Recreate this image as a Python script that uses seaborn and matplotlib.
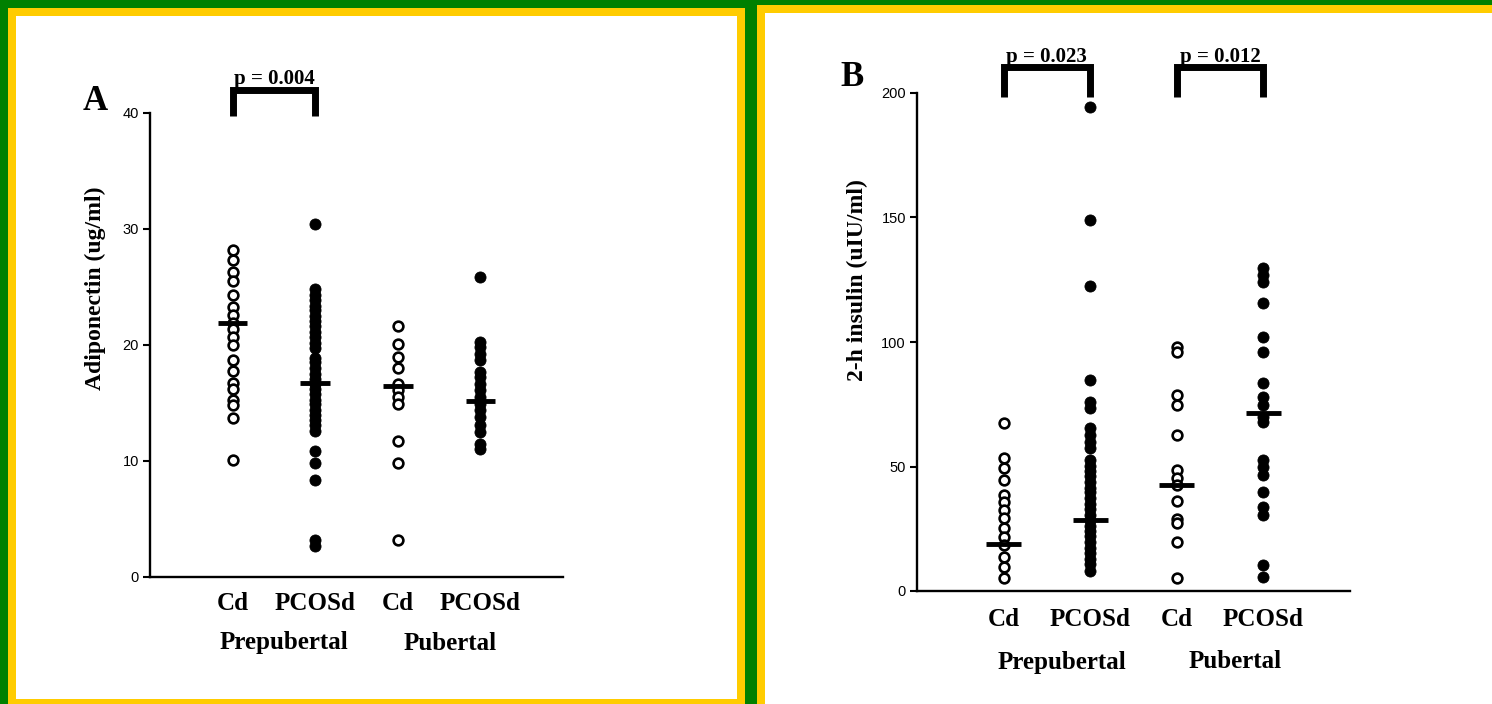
import numpy as np
import pandas as pd
import matplotlib
matplotlib.use("Agg")
import matplotlib.pyplot as plt
import seaborn as sns
from matplotlib.patches import Rectangle
from matplotlib import transforms

sns.set_theme(style="white")
plt.rcParams["font.family"] = ["Liberation Serif", "DejaVu Serif"]
plt.rcParams["text.color"] = "black"
plt.rcParams["axes.labelcolor"] = "black"
plt.rcParams["ytick.color"] = "black"
plt.rcParams["xtick.color"] = "black"

# ---------------- data ----------------
categories = ["Cd", "PCOSd", "Cd", "PCOSd"]
keys = ["Cd_pre", "PCOSd_pre", "Cd_pub", "PCOSd_pub"]
groups = ["Prepubertal", "Pubertal"]

adipo_cd_pre = [28.2, 27.3, 26.3, 25.5, 24.3, 23.3, 22.6, 21.9, 21.4, 20.7, 20.0,
                18.7, 17.8, 16.7, 16.2, 15.3, 14.8, 13.7, 10.1]
adipo_pcos_pre = [30.4, 24.8, 24.3, 23.9, 23.4, 23.0, 22.5, 22.1, 21.6, 21.1, 20.7,
                  20.2, 19.7, 18.9, 18.5, 18.0, 17.5, 17.1, 16.6, 16.2, 15.8, 15.3,
                  14.9, 14.4, 14.0, 13.5, 13.1, 12.6, 10.9, 9.8, 8.4, 3.2, 2.7]
adipo_cd_pub = [21.6, 20.1, 19.0, 18.0, 16.6, 16.1, 15.5, 14.9, 11.7, 9.8, 3.2]
adipo_pcos_pub = [25.9, 20.3, 19.8, 19.2, 18.7, 17.7, 17.2, 16.6, 16.1, 15.5, 14.9,
                  14.4, 13.8, 13.1, 12.5, 11.5, 11.0]
adipo_center = [21.9, 16.7, 16.5, 15.2]

ins_cd_pre = [67.3, 53.3, 49.3, 44.6, 38.6, 35.9, 32.5, 29.2, 25.2, 21.8, 18.5,
              13.8, 9.8, 5.1]
ins_pcos_pre = [194.5, 149.0, 122.5, 84.7, 76.0, 73.5, 65.3, 62.6, 60.0, 57.3, 52.5,
                50.4, 48.1, 46.0, 43.8, 41.5, 39.6, 37.2, 35.1, 32.8, 30.6, 28.4,
                26.3, 24.0, 21.9, 19.7, 17.4, 15.3, 13.0, 10.9, 8.2]
ins_cd_pub = [98.1, 96.1, 78.7, 74.7, 62.7, 48.6, 45.3, 42.6, 36.3, 28.8, 27.2,
              19.8, 5.1]
ins_pcos_pub = [129.6, 126.9, 124.2, 115.8, 101.9, 96.1, 83.4, 78.0, 74.7, 70.0,
                68.0, 52.6, 49.9, 46.6, 39.9, 33.9, 30.5, 10.4, 5.7]
ins_center = [18.9, 28.5, 42.6, 71.6]

adipo_ticks = [0, 10, 20, 30, 40]
ins_ticks = [0, 50, 100, 150, 200]

# ---------------- figure ----------------
W, H = 1492, 704
fig = plt.figure(figsize=(W / 100, H / 100), dpi=100)
fig.patch.set_facecolor("#008000")


def fx(px):
    return px / W


def fy(py):
    return 1 - py / H


def rect(x0, y0, x1, y1, color):
    fig.patches.append(Rectangle((fx(x0), fy(y1)), (x1 - x0) / W, (y1 - y0) / H,
                                 transform=fig.transFigure, facecolor=color,
                                 edgecolor="none", zorder=-10))


YELLOW = "#FFCC00"
rect(8, 8, 745, 710, YELLOW)
rect(16, 16, 737, 699, "white")
rect(757, 5, 1500, 710, YELLOW)
rect(765, 13, 1500, 710, "white")


def make_df(a, b, c, d):
    vals = [a, b, c, d]
    rows = []
    for k, v in zip(keys, vals):
        for y in v:
            rows.append({"cat": k, "val": y, "fill": "open" if k.startswith("Cd") else "filled"})
    return pd.DataFrame(rows)


def panel(rect_px, df, centers, ticks, ylabel, letter, letter_xy, ylabel_xy,
          brackets, bar_half, group_pos, tick_y, group_y, open_size, fill_size):
    x0, y0, x1, y1 = rect_px
    ax = fig.add_axes([fx(x0), fy(y1), (x1 - x0) / W, (y1 - y0) / H])
    ax.set_facecolor("none")
    sns.stripplot(data=df[df["fill"] == "open"], x="cat", y="val", order=keys,
                  jitter=False, color="white", edgecolor="black", linewidth=1.9,
                  size=open_size, ax=ax, zorder=3)
    sns.stripplot(data=df[df["fill"] == "filled"], x="cat", y="val", order=keys,
                  jitter=False, color="black", edgecolor="black", linewidth=0.6,
                  size=fill_size, ax=ax, zorder=3)
    pos = np.arange(len(keys))
    ax.hlines(centers, pos - bar_half, pos + bar_half, color="black", lw=3.5, zorder=4)
    ax.set_xlim(-1, 4)
    ax.set_ylim(ticks[0], ticks[-1])
    ax.set_yticks(ticks)
    ax.set_yticklabels([str(t) for t in ticks], fontfamily="Liberation Sans",
                       fontsize=10.5, color="black")
    ax.set_xticks(pos)
    ax.set_xticklabels([])
    ax.tick_params(axis="x", length=0)
    ax.tick_params(axis="y", direction="out", length=5, width=1.5, pad=3, left=True,
                   color="black")
    for s in ["top", "right"]:
        ax.spines[s].set_visible(False)
    for s in ["left", "bottom"]:
        ax.spines[s].set_linewidth(1.7)
        ax.spines[s].set_color("black")
    ax.set_xlabel("")
    ax.set_ylabel("")
    trans = transforms.blended_transform_factory(ax.transData, ax.transAxes)
    axh = y1 - y0
    for p, lab in zip(pos, categories):
        ax.text(p, -(tick_y - y1) / axh, lab, transform=trans, ha="center", va="center",
                fontsize=18, fontweight="bold", color="black")
    for gp, g in zip(group_pos, groups):
        ax.text(gp, -(group_y - y1) / axh, g, transform=trans, ha="center", va="center",
                fontsize=18, fontweight="bold", color="black")
    fig.text(fx(ylabel_xy[0]), fy(ylabel_xy[1]), ylabel, rotation=90, ha="center",
             va="center", fontsize=17, fontweight="bold", color="black")
    fig.text(fx(letter_xy[0]), fy(letter_xy[1]), letter, ha="center", va="center",
             fontsize=25, fontweight="bold", color="black")
    for (xa, xb, ylo, yhi, ytxt, txt) in brackets:
        ax.plot([xa, xa, xb, xb], [ylo, yhi, yhi, ylo], color="black", lw=5,
                solid_joinstyle="miter", solid_capstyle="butt", clip_on=False)
        ax.text((xa + xb) / 2, ytxt, txt, ha="center", va="baseline", fontsize=15,
                fontweight="bold", color="black", clip_on=False)
    return ax


dfA = make_df(adipo_cd_pre, adipo_pcos_pre, adipo_cd_pub, adipo_pcos_pub)
dfB = make_df(ins_cd_pre, ins_pcos_pre, ins_cd_pub, ins_pcos_pub)

panel((150, 113, 563, 577), dfA, adipo_center, adipo_ticks, "Adiponectin (ug/ml)", "A",
      (95, 101), (95, 288), [(0, 1, 39.7, 42.0, 42.5, "p = 0.004")], 0.18,
      [0.62, 2.63], 603, 643, 7.0, 8.0)
panel((917, 93, 1350, 591), dfB, ins_center, ins_ticks, "2-h insulin (uIU/ml)", "B",
      (852, 78), (857, 280),
      [(0, 1, 198.4, 210.5, 212.5, "p = 0.023"), (2, 3, 198.4, 210.5, 212.5, "p = 0.012")],
      0.2, [0.67, 2.67], 620, 662, 7.0, 8.0)

fig.savefig("out.png", dpi=100, facecolor=fig.get_facecolor())
